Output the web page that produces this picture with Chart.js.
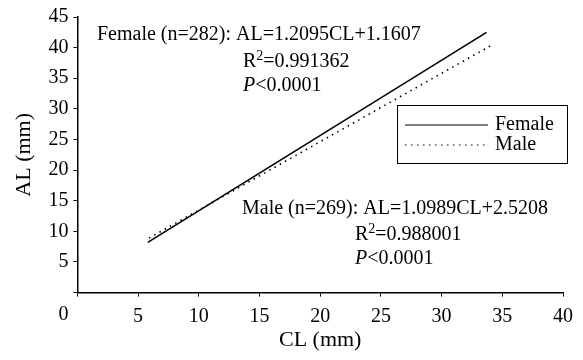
<!DOCTYPE html>
<html>
<head>
<meta charset="utf-8">
<script src="https://cdn.jsdelivr.net/npm/chart.js@4.4.0/dist/chart.umd.min.js"></script>
<style>
  html, body { margin: 0; padding: 0; background: #fff; }
  #chartDisplay { width: 583px; height: 360px; }
</style>
</head>
<body>
<div id="chartDisplay"><canvas id="myChart"></canvas></div>
<script>
// data
const seriesNames = ['Female', 'Male'];
const femalePoints = [{x: 5.8, y: 8.2}, {x: 33.7, y: 42.5}];
const malePoints = [{x: 5.9, y: 8.9}, {x: 34.3, y: 40.6}];
const xTicks = [0, 5, 10, 15, 20, 25, 30, 35, 40];
const yTicks = [0, 5, 10, 15, 20, 25, 30, 35, 40, 45];

// regression notes
const fitLabels = ['Female (n=282): ', 'Male (n=269): '];
const fitEquations = ['AL=1.2095CL+1.1607', 'AL=1.0989CL+2.5208'];
const fitR2 = ['=0.991362', '=0.988001'];
const fitP = ['<0.0001', '<0.0001'];

const serif = '"Liberation Serif", "Times New Roman", serif';

// draws text pieces one after another: 'n' normal, 'i' italic, 's' superscript
function drawRich(ctx, parts, x, y, size) {
  ctx.textBaseline = 'middle';
  ctx.textAlign = 'left';
  for (const [txt, st] of parts) {
    let fs = size, dy = 0, style = '';
    if (st === 's') { fs = size * 0.7; dy = -size * 0.3; }
    if (st === 'i') { style = 'italic '; }
    ctx.font = style + fs + 'px ' + serif;
    ctx.fillText(txt, x, y + dy);
    x += ctx.measureText(txt).width;
  }
}

const notesPlugin = {
  id: 'notes',
  afterDraw(chart) {
    const ctx = chart.ctx;
    const area = chart.chartArea;
    ctx.save();
    ctx.fillStyle = '#000';

    // origin label sits left of the axis
    ctx.font = '20px ' + serif;
    ctx.textAlign = 'center';
    ctx.textBaseline = 'middle';
    ctx.fillText('0', area.left - 14, area.bottom + 22);

    // female note
    drawRich(ctx, [[fitLabels[0] + fitEquations[0], 'n']], 97, 35, 20);
    drawRich(ctx, [['R', 'n'], ['2', 's'], [fitR2[0], 'n']], 243, 62, 20);
    drawRich(ctx, [['P', 'i'], [fitP[0], 'n']], 243, 86, 20);

    // male note
    drawRich(ctx, [[fitLabels[1] + fitEquations[1], 'n']], 242, 209, 20);
    drawRich(ctx, [['R', 'n'], ['2', 's'], [fitR2[1], 'n']], 355, 235, 20);
    drawRich(ctx, [['P', 'i'], [fitP[1], 'n']], 355, 259, 20);

    // legend box
    const bx = 397, by = 105, bw = 170, bh = 58;
    ctx.lineWidth = 1;
    ctx.strokeStyle = '#000';
    ctx.setLineDash([]);
    ctx.strokeRect(bx + 0.5, by + 0.5, bw, bh);
    chart.data.datasets.forEach((ds, i) => {
      const ly = by + 20 + i * 20;
      ctx.beginPath();
      ctx.setLineDash(ds.borderDash || []);
      ctx.lineWidth = 1.2;
      ctx.moveTo(bx + 8, ly);
      ctx.lineTo(bx + 91, ly);
      ctx.stroke();
      ctx.setLineDash([]);
      drawRich(ctx, [[ds.label, 'n']], bx + 98, ly, 20);
    });
    ctx.restore();
  }
};

function makeChart() {
  const data = {
    datasets: [{
      label: seriesNames[0],
      data: femalePoints,
      borderColor: '#000',
      borderWidth: 1.6,
      showLine: true,
      pointRadius: 0
    }, {
      label: seriesNames[1],
      data: malePoints,
      borderColor: '#000',
      borderWidth: 1.6,
      borderDash: [1.5, 4.5],
      showLine: true,
      pointRadius: 0
    }]
  };

  const config = {
    type: 'scatter',
    data,
    options: {
      responsive: false,
      animation: false,
      layout: { padding: { top: 5, right: 10, bottom: 7, left: 11 } },
      plugins: { legend: { display: false }, tooltip: { enabled: false } },
      scales: {
        x: {
          type: 'linear',
          min: 0, max: 40,
          afterBuildTicks: (s) => { s.ticks = xTicks.map(v => ({value: v})); },
          ticks: {
            color: '#000',
            font: { family: serif, size: 20, lineHeight: 1 },
            padding: 10,
            callback: (v) => v === 0 ? '' : v
          },
          grid: { drawOnChartArea: false, color: '#000', tickLength: 4 },
          border: { color: '#000', width: 1.5 },
          title: {
            display: true, text: 'CL (mm)', color: '#000',
            font: { family: serif, size: 22 }, padding: { top: -10, bottom: 0 }
          }
        },
        y: {
          type: 'linear',
          min: 0, max: 45,
          afterBuildTicks: (s) => { s.ticks = yTicks.map(v => ({value: v})); },
          ticks: {
            color: '#000',
            font: { family: serif, size: 20 },
            padding: 5,
            callback: (v) => v === 0 ? '' : v
          },
          grid: { drawOnChartArea: false, color: '#000', tickLength: 4 },
          border: { color: '#000', width: 1.5 },
          title: {
            display: true, text: 'AL (mm)', color: '#000',
            font: { family: serif, size: 22 }, padding: { top: 0, bottom: 6 }
          }
        }
      }
    },
    plugins: [notesPlugin]
  };

  const canvas = document.getElementById('myChart');
  canvas.width = 583;
  canvas.height = 360;
  return new Chart(canvas, config);
}
makeChart();
</script>
</body>
</html>
